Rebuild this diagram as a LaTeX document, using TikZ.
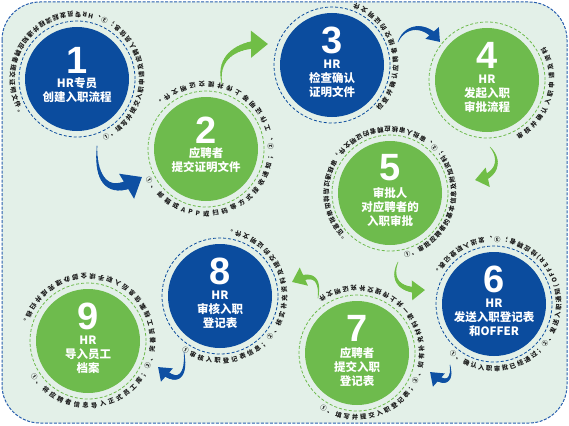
\documentclass[tikz,border=0pt]{standalone}
\usepackage{fontspec}
\newfontfamily\cjk{Noto Sans CJK SC}
\newfontfamily\numf{Liberation Sans}
\usetikzlibrary{decorations.text,arrows.meta,calc}
\definecolor{bgc}{RGB}{227,240,232}
\definecolor{dblue}{RGB}{11,76,158}
\definecolor{lgreen}{RGB}{110,187,77}
\definecolor{bord}{RGB}{40,95,175}
\definecolor{ringtxt}{RGB}{25,25,25}
\definecolor{ablue}{RGB}{14,80,163}
\definecolor{agreen}{RGB}{112,190,70}
\tikzset{
  x=1pt,y=1pt,
  bluedisk/.style={circle, fill=dblue, minimum size=104pt, inner sep=0},
  greendisk/.style={circle, fill=lgreen, minimum size=104pt, inner sep=0},
  bluering/.style={draw=dblue, line width=0.8pt, dash pattern=on 3pt off 2pt},
  greenring/.style={draw=lgreen, line width=0.8pt, dash pattern=on 3pt off 2pt},
  numtxt/.style={text=white, font=\numf\bfseries\fontsize{38}{38}\selectfont, inner sep=0},
  labtxt/.style={text=white, font=\cjk\bfseries\fontsize{11.5}{14}\selectfont, align=center, inner sep=0},
}
\newcommand\ringtext[5]{%
  \path[decorate, decoration={text along path,
      text={|\cjk\bfseries\fontsize{6.3}{6.3}\selectfont\color{ringtxt}|#5},
      text align=fit to path}]
    ([shift={(#2:#4)}]#1) arc[start angle=#2, end angle=#3, radius=#4];
}
\newcommand\swoosh[7]{%
  \path (#2) .. controls (#3) and (#4) .. (#5)
    foreach \k in {0,...,20}{coordinate[pos=\k/20] (sw\k)};
  \foreach \k in {0,...,17}{%
    \pgfmathtruncatemacro\kk{\k+1}%
    \draw[#1, line cap=round, line width={0.6+(#6-0.6)*\k/17}] (sw\k) -- (sw\kk);}
  \draw[#1, line width=#6, -{Triangle[#7]}] (sw18) -- (sw20);
}
\begin{document}
\begin{tikzpicture}
\useasboundingbox (0,0) rectangle (569,-425);
\fill[white] (0,0) rectangle (569,-425);
\draw[bord, line width=1pt, dash pattern=on 3pt off 1.5pt, fill=bgc, rounded corners=38pt]
  (2,-2) rectangle (567,-423);

% disks
\node[bluedisk]  (c1) at (77,-79)   {};
\node[greendisk] (c2) at (206,-149) {};
\node[bluedisk]  (c3) at (332,-65)  {};
\node[greendisk] (c4) at (487,-80)  {};
\node[greendisk] (c5) at (390,-193) {};
\node[bluedisk]  (c6) at (494,-304) {};
\node[greendisk] (c7) at (357,-353) {};
\node[bluedisk]  (c8) at (220,-296) {};
\node[greendisk] (c9) at (88,-341)  {};

% dashed rings
\foreach \c in {c1,c3,c6,c8} \draw[bluering] (\c) circle[radius=58];
\foreach \c in {c2,c4,c5,c7,c9} \draw[greenring] (\c) circle[radius=58];

% numbers and labels
\node[numtxt] (n1) at ($(c1)+(0,19)$) {1};
\node[labtxt] (l1) at ($(c1)+(0,-11)$) {HR专员\\创建入职流程};
\node[numtxt] (n2) at ($(c2)+(0,19)$) {2};
\node[labtxt] (l2) at ($(c2)+(0,-11)$) {应聘者\\提交证明文件};
\node[numtxt] (n3) at ($(c3)+(0,25)$) {3};
\node[labtxt] (l3) at ($(c3)+(0,-14)$) {HR\\检查确认\\证明文件};
\node[numtxt] (n4) at ($(c4)+(0,25)$) {4};
\node[labtxt] (l4) at ($(c4)+(0,-14)$) {HR\\发起入职\\审批流程};
\node[numtxt] (n5) at ($(c5)+(0,25)$) {5};
\node[labtxt] (l5) at ($(c5)+(0,-14)$) {审批人\\对应聘者的\\入职审批};
\node[numtxt] (n6) at ($(c6)+(0,25)$) {6};
\node[labtxt] (l6) at ($(c6)+(0,-14)$) {HR\\发送入职登记表\\和OFFER};
\node[numtxt] (n7) at ($(c7)+(0,25)$) {7};
\node[labtxt] (l7) at ($(c7)+(0,-14)$) {应聘者\\提交入职\\登记表};
\node[numtxt] (n8) at ($(c8)+(0,25)$) {8};
\node[labtxt] (l8) at ($(c8)+(0,-14)$) {HR\\审核入职\\登记表};
\node[numtxt] (n9) at ($(c9)+(0,25)$) {9};
\node[labtxt] (l9) at ($(c9)+(0,-14)$) {HR\\导入员工\\档案};

% ring texts
\ringtext{c1}{-66}{213}{67}{①、填写并提交入职申请及应聘人员信息；②、HR专员发起流程并通知应聘者提交证明文件。}
\ringtext{c2}{206}{498}{67}{①、邮箱或APP或扫码等方式接收通知；②、工作证明等上传并提交证明文件。}
\ringtext{c3}{-44}{70}{66}{检查并确认应聘者提交的证明文件}
\ringtext{c4}{-62}{30}{67}{审核并确认入职申请及资料}
\ringtext{c5}{-77}{228}{66}{①、审批应聘者的基本信息及附加资料；②、审批人审核应聘者的证明文件，审核通过后给出审批意见。}
\ringtext{c6}{228}{513}{67}{①、确认入职审批已经通过；②、发送入职通知(OFFER)给应聘者；③、发送入职登记表。}
\ringtext{c7}{236}{485}{67}{①、填写并提交入职登记表；②、如有补充材料请一并上传提交补充证明文件}
\ringtext{c8}{235}{444}{67}{①审核入职登记表信息；②、核实补充资料及提交的证明文件。}
\ringtext{c9}{211}{526}{67}{①、将应聘者信息导入正式员工库；②、完善员工档案信息后入职手续全部办理完成并归档。}

% arrows
\coordinate (a1s) at (97,-146);
\coordinate (a1e) at (142,-177);
\swoosh{ablue}{a1s}{95,-182}{110,-199}{a1e}{9}{width=28pt,length=18pt}
\coordinate (a2s) at (222,-84);
\coordinate (a2e) at (268,-44);
\swoosh{agreen}{a2s}{216,-55}{240,-43}{a2e}{8}{width=26pt,length=17pt}
\coordinate (a3s) at (398,-42);
\coordinate (a3e) at (440,-42);
\swoosh{ablue}{a3s}{405,-25}{425,-22}{a3e}{6}{width=17pt,length=12pt}
\coordinate (a4s) at (490,-147);
\coordinate (a4e) at (475,-180);
\swoosh{agreen}{a4s}{502,-160}{497,-177}{a4e}{6}{width=19pt,length=13pt}
\coordinate (a5s) at (398,-262);
\coordinate (a5e) at (425,-290);
\swoosh{agreen}{a5s}{390,-280}{400,-292}{a5e}{6}{width=19pt,length=13pt}
\coordinate (a6s) at (450,-365);
\coordinate (a6e) at (430,-372);
\swoosh{ablue}{a6s}{453,-381}{445,-387}{a6e}{6}{width=17pt,length=12pt}
\coordinate (a7s) at (318,-298);
\coordinate (a7e) at (292,-282);
\swoosh{agreen}{a7s}{321,-275}{310,-273}{a7e}{6}{width=19pt,length=13pt}
\coordinate (a8s) at (184,-352);
\coordinate (a8e) at (158,-367);
\swoosh{ablue}{a8s}{187,-376}{178,-387}{a8e}{6}{width=17pt,length=12pt}
\end{tikzpicture}
\end{document}
